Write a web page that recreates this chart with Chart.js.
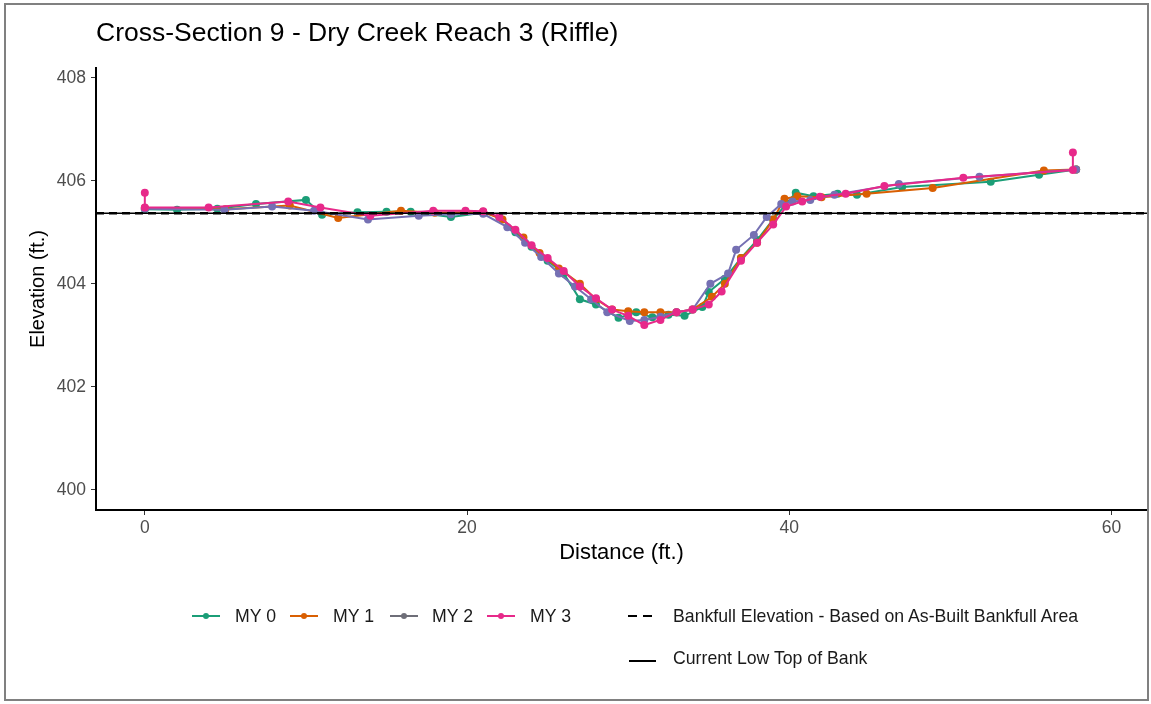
<!DOCTYPE html>
<html>
<head>
<meta charset="utf-8">
<script src="https://cdn.jsdelivr.net/npm/chart.js@4/dist/chart.umd.min.js"></script>
<style>
  body { margin: 0; background: #fff; font-family: "Liberation Sans", Arial, sans-serif; }
  #wrap { position: relative; width: 1151px; height: 704px; }
  #frame { position: absolute; left: 4px; top: 3px; width: 1145px; height: 698px; border: 2px solid #808080; box-sizing: border-box; }
  #title { position: absolute; left: 96px; top: 17px; font-size: 26.5px; color: #000; white-space: nowrap; }
  .lg { position: absolute; font-size: 17.7px; color: #1a1a1a; white-space: nowrap; line-height: 20px; }
  .sym { position: absolute; width: 28px; height: 2px; }
  .dot { position: absolute; width: 6px; height: 6px; border-radius: 50%; left: 11px; top: -2px; }
</style>
</head>
<body>
<div id="wrap">
  <canvas id="xs" width="1151" height="704"></canvas>
  <div id="frame"></div>
  <div id="title">Cross-Section 9 - Dry Creek Reach 3 (Riffle)</div>
  <div id="legend"></div>
</div>
<script>
// Series: [distance, elevation]
var my0 = [[0,405.45],[2,405.44],[4.5,405.46],[6.9,405.55],[10,405.63],[11,405.34],[13.2,405.39],[15,405.4],[16.5,405.4],[19,405.3],[21,405.38],
  [22,405.3],[23,405.0],[24,404.72],[25,404.45],[26,404.2],[27,403.7],[28,403.6],[29.4,403.34],[30.5,403.45],[31.5,403.35],[32.5,403.4],[33.5,403.38],
  [34.6,403.55],[35,403.84],[36,404.1],[37,404.5],[38,404.85],[39,405.25],[40.4,405.77],[41.5,405.7],[43,405.75],[44.2,405.73],[47,405.88],
  [52.5,405.98],[55.5,406.12],[57.8,406.22]];
var my1 = [[0,405.47],[5,405.45],[9,405.52],[12,405.28],[15.9,405.42],[18,405.38],[21,405.4],[22.2,405.25],[23.5,404.9],[24.5,404.6],[25.7,404.3],
  [27,404.0],[28,403.7],[29,403.5],[30,403.47],[31,403.45],[32,403.45],[33,403.45],[34,403.5],[35.2,403.75],[36,404.0],[37,404.5],[38,404.8],
  [39,405.25],[39.7,405.65],[40.5,405.7],[42,405.68],[44.8,405.75],[48.9,405.86],[55.8,406.2],[57.8,406.22]];
var my2 = [[0,405.46],[4.95,405.44],[7.9,405.5],[10.5,405.42],[13.85,405.25],[17,405.32],[19,405.35],[21,405.36],[22.5,405.1],[23.6,404.8],
  [24.6,404.52],[25.7,404.2],[26.7,403.95],[27.7,403.7],[28.7,403.45],[30.1,403.28],[31,403.3],[32,403.36],[33,403.45],[34,403.5],[35.1,404.0],
  [36.2,404.2],[36.7,404.66],[37.8,404.95],[38.6,405.3],[39.5,405.55],[40.2,405.6],[41.3,405.63],[42.8,405.73],[46.8,405.94],[51.8,406.08],[57.8,406.22]];
var my3 = [[0,405.77],[0,405.48],[3.96,405.48],[8.9,405.6],[10.9,405.48],[14,405.32],[17.9,405.42],[19.9,405.42],[21,405.41],[22,405.3],[23,405.05],
  [24,404.75],[25,404.5],[26,404.25],[27,403.95],[28,403.72],[29,403.5],[30,403.38],[31,403.2],[32,403.3],[33,403.45],[34,403.5],[35,403.6],
  [35.8,403.85],[37,404.45],[38,404.8],[39,405.15],[39.8,405.5],[40.8,405.6],[41.9,405.69],[43.5,405.75],[45.9,405.9],[50.8,406.06],[57.6,406.21],[57.6,406.55]];

var seriesNames = ["MY 0", "MY 1", "MY 2", "MY 3"];
var seriesColors = ["#1b9e77", "#d95f02", "#7570b3", "#e7298a"];
var legendColors = ["#1b9e77", "#d95f02", "#6e6e78", "#e7298a"];

var bankfullElev = 405.37;
var lowTopBank = 405.37;
var xLimits = [-3.03, 62.2];
var yLimits = [399.61, 408.19];
var xTicks = [0, 20, 40, 60];
var yTicks = [400, 402, 404, 406, 408];

function toPts(arr) {
    return arr.map(function (p) { return { x: p[0], y: p[1] }; });
}
function flat(v) {
    return xLimits.map(function (x) { return { x: x, y: v }; });
}

var datasets = [
    { label: "Bankfull Elevation - Based on As-Built Bankfull Area", data: flat(bankfullElev), borderColor: "#000", borderWidth: 2.5,
      borderDash: [8, 5], pointRadius: 0, order: 0 },
    { label: "Current Low Top of Bank", data: flat(lowTopBank), borderColor: "#000", borderWidth: 1.5, pointRadius: 0, order: 1 }
];
[my0, my1, my2, my3].forEach(function (s, i) {
    datasets.push({
        label: seriesNames[i],
        data: toPts(s),
        borderColor: seriesColors[i],
        backgroundColor: seriesColors[i],
        borderWidth: 2,
        pointRadius: 4,
        pointBorderWidth: 0,
        order: 5 - i
    });
});

var tickFont = { family: "Liberation Sans", size: 17.5 };
var ctx = document.getElementById("xs").getContext("2d");
var chart = new Chart(ctx, {
    type: "scatter",
    data: { datasets: datasets },
    options: {
        responsive: false,
        animation: false,
        showLine: true,
        layout: { padding: { left: 22, top: 68, right: 1, bottom: 134 } },
        plugins: { legend: { display: false }, tooltip: { enabled: false } },
        scales: {
            x: {
                type: "linear", min: xLimits[0], max: xLimits[1],
                afterBuildTicks: function (s) { s.ticks = xTicks.map(function (v) { return { value: v }; }); },
                afterFit: function (s) { s.height = 60; },
                grid: { drawOnChartArea: false, tickLength: 5, tickColor: "#333", tickWidth: 1 },
                border: { color: "#000", width: 2 },
                ticks: { color: "#4d4d4d", font: tickFont, padding: 3, maxRotation: 0 },
                title: { display: true, text: "Distance (ft.)", color: "#000", font: { family: "Liberation Sans", size: 22 }, padding: { top: 0, bottom: 4 } }
            },
            y: {
                type: "linear", min: yLimits[0], max: yLimits[1],
                afterBuildTicks: function (s) { s.ticks = yTicks.map(function (v) { return { value: v }; }); },
                afterFit: function (s) { s.width = 74; },
                grid: { drawOnChartArea: false, tickLength: 5, tickColor: "#333", tickWidth: 1 },
                border: { color: "#000", width: 2 },
                ticks: { color: "#4d4d4d", font: tickFont, padding: 5 },
                title: { display: true, text: "Elevation (ft.)", color: "#000", font: { family: "Liberation Sans", size: 20 }, padding: { top: 4, bottom: 0 } }
            }
        }
    }
});

// legend laid out like the ggplot one: two rows under the plot
var lg = document.getElementById("legend");
var symX = [192, 290, 390, 487];
var txtX = [235, 333, 432, 530];
var html = "";
seriesNames.forEach(function (n, i) {
    html += '<div class="sym" style="left:' + symX[i] + 'px;top:615px;background:' + legendColors[i] + '">' +
        '<div class="dot" style="background:' + legendColors[i] + '"></div></div>';
    html += '<div class="lg" style="left:' + txtX[i] + 'px;top:606px">' + n + '</div>';
});
html += '<div class="sym" style="left:628px;top:615px;width:28px;background:repeating-linear-gradient(90deg,#000 0 9px,transparent 9px 15px)"></div>';
html += '<div class="lg" style="left:673px;top:606px">' + datasets[0].label + '</div>';
html += '<div class="sym" style="left:629px;top:660px;width:27px;background:#000"></div>';
html += '<div class="lg" style="left:673px;top:648px">' + datasets[1].label + '</div>';
lg.innerHTML = html;
</script>
</body>
</html>
